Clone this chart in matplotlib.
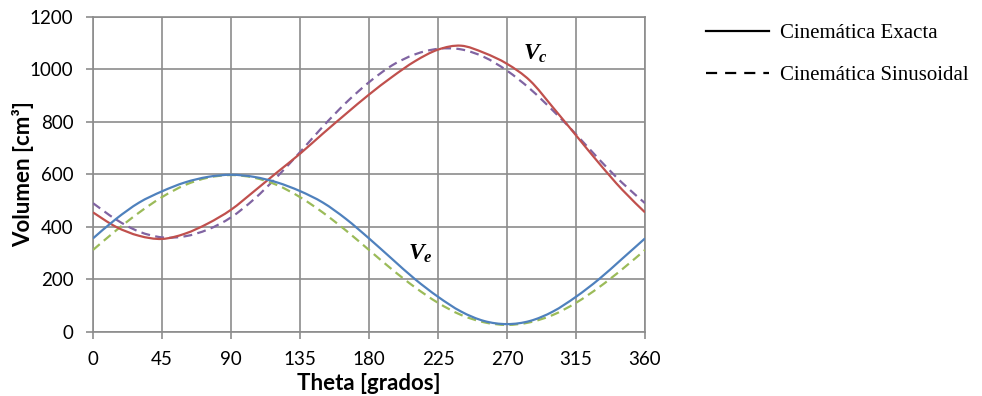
import matplotlib
matplotlib.use('Agg')
import numpy as np
import matplotlib.pyplot as plt
from matplotlib.lines import Line2D
from matplotlib.path import Path
from matplotlib.patches import PathPatch

# angle in degrees, volumes in cm3
theta = [0, 15, 30, 45, 60, 75, 90, 105, 120, 135, 150, 165, 180,
         195, 210, 225, 240, 255, 270, 285, 300, 315, 330, 345, 360]

vc_exact = [455, 400, 366, 354, 374, 413, 465, 535, 607, 678, 755, 830, 903,
            970, 1030, 1074, 1089, 1062, 1020, 956, 854, 748, 642, 542, 455]
vc_sin = [490, 428, 382, 360, 364, 390, 436, 505, 590, 684, 782, 872, 950,
          1014, 1056, 1077, 1075, 1046, 994, 925, 842, 752, 657, 568, 490]
ve_exact = [356, 430, 492, 535, 569, 590, 598, 590, 569, 536, 492, 430, 356,
            278, 201, 134, 78, 42, 30, 42, 78, 134, 201, 278, 356]
ve_sin = [312, 386, 454, 513, 559, 587, 597, 587, 559, 513, 454, 386, 312,
          238, 170, 111, 65, 37, 27, 37, 65, 111, 170, 238, 312]

x_ticks = [0, 45, 90, 135, 180, 225, 270, 315, 360]
y_ticks = [0, 200, 400, 600, 800, 1000, 1200]
legend_labels = ['Cinemática Exacta', 'Cinemática Sinusoidal']

plt.rcParams['mathtext.fontset'] = 'custom'
plt.rcParams['mathtext.it'] = 'Liberation Serif:italic:bold'
plt.rcParams['mathtext.rm'] = 'Liberation Serif:bold'


def smooth_path(x, y):
    # excel style smoothed line: bezier segments through the data points
    pts = np.column_stack([x, y]).astype(float)
    n = len(pts)
    verts = [pts[0]]
    codes = [Path.MOVETO]
    for i in range(n - 1):
        p0 = pts[i - 1] if i > 0 else pts[i]
        p1, p2 = pts[i], pts[i + 1]
        p3 = pts[i + 2] if i + 2 < n else pts[i + 1]
        verts += [p1 + (p2 - p0) / 6, p2 - (p3 - p1) / 6, p2]
        codes += [Path.CURVE4] * 3
    return Path(verts, codes)


W, H = 982, 396
fig = plt.figure(figsize=(W / 100, H / 100), dpi=100)
ax = fig.add_axes([93 / W, (H - 332) / H, (645 - 93) / W, (332 - 16.5) / H])

grid_c = '#8c8c8c'
dash = (4, 2.4)
series = [
    (vc_sin, '#8064A2', (0, dash), 3),
    (ve_sin, '#9BBB59', (0, dash), 3),
    (vc_exact, '#C0504D', '-', 4),
    (ve_exact, '#4F81BD', '-', 4),
]
for vals, col, ls, z in series:
    ax.add_patch(PathPatch(smooth_path(theta, vals), fill=False, edgecolor=col,
                           lw=1.6, ls=ls, zorder=z))

ax.set_xlim(0, 360)
ax.set_ylim(0, 1200)
ax.set_xticks(x_ticks)
ax.set_yticks(y_ticks)
ax.grid(True, color=grid_c, lw=1.2)
ax.set_axisbelow(True)
for s in ax.spines.values():
    s.set_color(grid_c)
    s.set_linewidth(1.2)
ax.tick_params(direction='out', length=5, width=1.2, color=grid_c,
               labelsize=13.5, pad=9)
for lab in ax.get_xticklabels() + ax.get_yticklabels():
    lab.set_fontfamily('Lato')

ax.set_xlabel('Theta [grados]', fontfamily='Lato', fontweight='bold',
              fontsize=16)
ax.xaxis.set_label_coords(0.5, -(383 - 332) / (332 - 16.5))
ax.xaxis.label.set_va('center')
ax.set_ylabel('Volumen [cm³]', fontfamily='Lato', fontweight='bold',
              fontsize=16)
ax.yaxis.set_label_coords(-(93 - 23) / (645 - 93), 0.5)
ax.yaxis.label.set_va('center')

ax.text(280.5, 1062, r'$V_c$', fontsize=17, ha='left', va='center')
ax.text(205.5, 302, r'$V_e$', fontsize=17, ha='left', va='center')

handles = [Line2D([], [], color='black', lw=1.6),
           Line2D([], [], color='black', lw=1.6, ls=(0, (5, 3.6)))]
fig.legend(handles, legend_labels, loc='upper left',
           bbox_to_anchor=(700 / W, 1 - 17 / H), frameon=False,
           prop={'family': 'Liberation Serif', 'size': 15},
           handlelength=3.0, handletextpad=0.55, labelspacing=1.1,
           borderaxespad=0, borderpad=0.3)

fig.savefig('out.png', dpi=100)
